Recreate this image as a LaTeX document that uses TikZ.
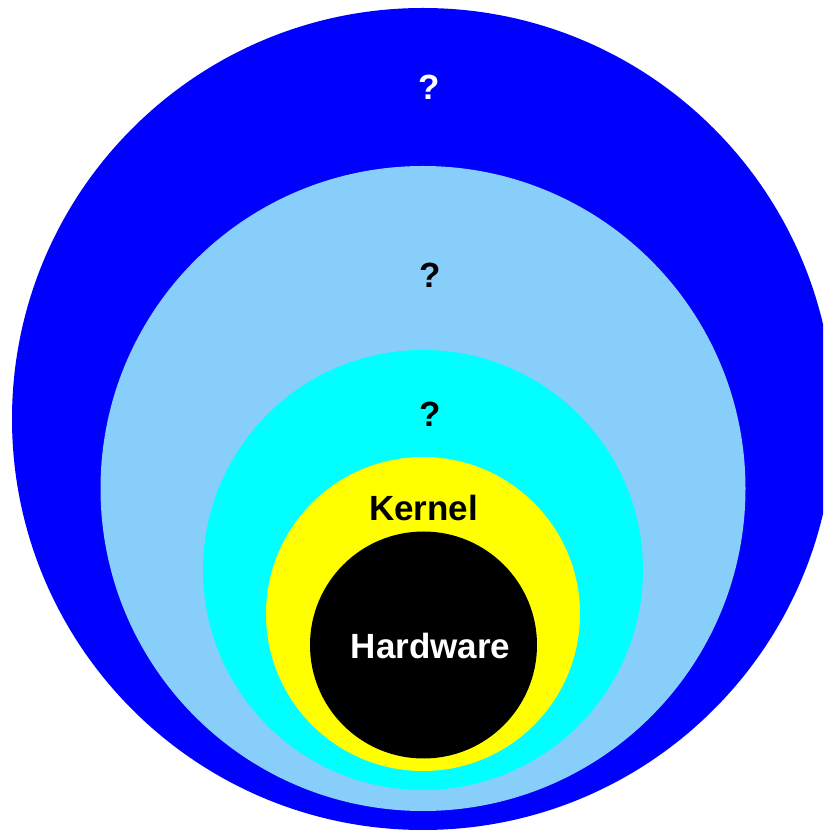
\documentclass[tikz,border=0pt]{standalone}
\usepackage{fontspec}
\setmainfont{Liberation Sans}
\definecolor{blu}{RGB}{0,0,255}
\definecolor{azzurro}{RGB}{135,206,250}
\definecolor{ciano}{RGB}{0,255,255}
\definecolor{giallo}{RGB}{255,255,0}
\tikzset{
  strato/.style={circle, inner sep=0pt, outer sep=0pt, draw=none},
  etichetta/.style={font=\bfseries\fontsize{35}{41}\selectfont, inner sep=0pt}
}
\begin{document}
\begin{tikzpicture}[x=1pt, y=1pt]
        % Cornice
        \useasboundingbox (0, 0) rectangle (823, 830);
        \clip (0, 0) rectangle (823, 830);
        % Strati
        \node[strato, fill=blu, minimum size=822pt] (esterno) at (423, 411) {};
        \node[strato, fill=azzurro, minimum size=645pt] (medio) at (423, 341.5) {};
        \node[strato, fill=ciano, minimum size=440pt] (interno) at (423, 260) {};
        \node[strato, fill=giallo, minimum size=314pt] (kernel) at (423, 216) {};
        \node[strato, fill=black, minimum size=227pt] (hardware) at (423.5, 185) {};
        % Etichette
        \node[etichetta, text=white] (q1) at (429, 743) {?};
        \node[etichetta] (q2) at (430, 555) {?};
        \node[etichetta] (q3) at (430, 416) {?};
        \node[etichetta] (lkernel) at (423.5, 322) {Kernel};
        \node[etichetta, text=white] (lhardware) at (430.5, 184) {Hardware};
    \end{tikzpicture}
\end{document}
